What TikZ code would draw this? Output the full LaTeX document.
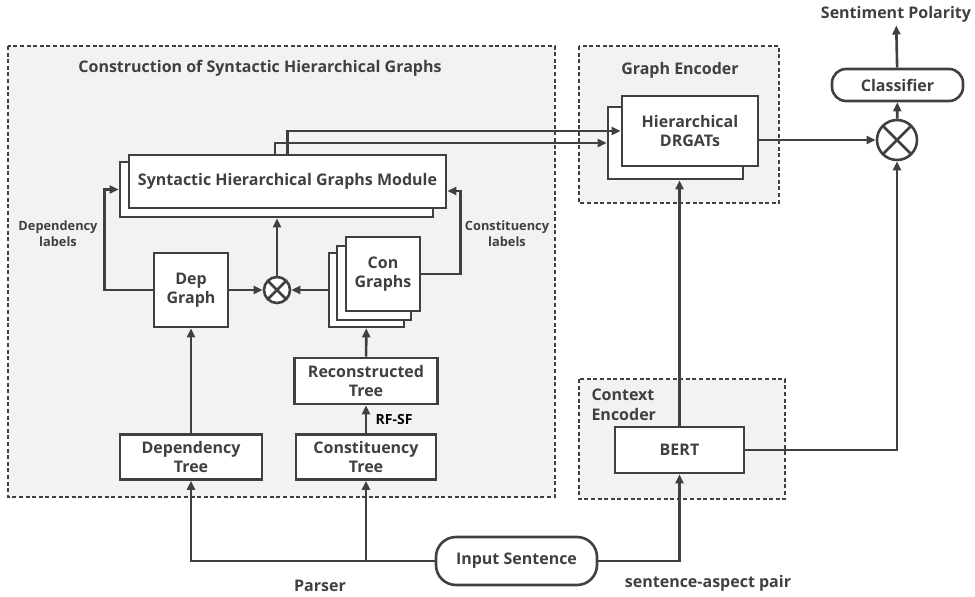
\documentclass[tikz,border=0pt]{standalone}
\usepackage{fontspec}
\setmainfont{Open Sans}
\usetikzlibrary{arrows.meta,%
                shapes,positioning}
\definecolor{ink}{HTML}{404040}
\definecolor{panelfill}{HTML}{F2F2F2}

\tikzset{
  box/.style={draw=ink, line width=2.6pt, fill=white, align=center, text=ink,
    inner sep=0pt, font=\bfseries\fontsize{16}{19.5}\selectfont},
  pill/.style={box, rounded corners=14pt},
  mul/.style={draw=ink, line width=2.6pt, fill=white, circle, inner sep=0pt,
    path picture={\draw[ink, line width=2.6pt]
      (path picture bounding box.north west) -- (path picture bounding box.south east)
      (path picture bounding box.north east) -- (path picture bounding box.south west);}},
  panel/.style={draw=ink, fill=panelfill, line width=2.4pt, dash pattern=on 4pt off 2.6pt},
  title/.style={text=ink, font=\bfseries\fontsize{16}{19.5}\selectfont, align=center},
  note/.style={text=ink, font=\bfseries\fontsize{12.8}{16}\selectfont, align=center},
  arr/.style={draw=ink, line width=2.6pt, -{Triangle[length=9pt,width=8pt]}},
  line/.style={draw=ink, line width=2.6pt}
}

\begin{document}
\begin{tikzpicture}[x=1pt,y=-1pt]
\useasboundingbox (0,0) rectangle (975,597);

% panels
\draw[panel] (8,46) rectangle (555,497);
\draw[panel] (579,46) rectangle (779,203);
\draw[panel] (579,379) rectangle (785,499);
\node[title] (contitle) at (260,68) {Construction of Syntactic Hierarchical Graphs};
\node[title] (enctitle) at (680,70) {Graph Encoder};
\node[title, anchor=west, align=left] (ctxtitle) at (588,405) {Context\\Encoder};

% syntactic part
\node[box, minimum width=313, minimum height=55] (shgback) at (276.5,189.5) {};
\node[box, minimum width=317, minimum height=53] (shg) at (287.5,181.5) {Syntactic Hierarchical Graphs Module};
\node[box, minimum width=74, minimum height=74] (depgraph) at (191,290) {Dep\\Graph};
\node[mul, minimum size=26] (mul) at (277,290) {};
\node[box, minimum width=75, minimum height=74] (conback) at (366.5,290) {};
\node[box, minimum width=74, minimum height=74] (conmid) at (374,283) {};
\node[box, minimum width=74, minimum height=74] (con) at (383,274) {Con\\Graphs};
\node[box, minimum width=143, minimum height=46] (rectree) at (366,381) {Reconstructed\\Tree};
\node[box, minimum width=140, minimum height=45] (contree) at (366,457) {Constituency\\Tree};
\node[box, minimum width=142, minimum height=45] (deptree) at (191,457) {Dependency\\Tree};
\node[note] (deplabel) at (58,234) {Dependency\\labels};
\node[note] (conlabel) at (507,234) {Constituency\\labels};

% encoders
\node[box, minimum width=135, minimum height=72] (drgback) at (675.5,143) {};
\node[box, minimum width=136, minimum height=70] (drg) at (690,131) {Hierarchical\\DRGATs};
\node[box, minimum width=129, minimum height=46] (bert) at (679.5,450) {BERT};
\node[pill, minimum width=161, minimum height=48, rounded corners=20pt] (input) at (516.5,561) {Input Sentence};
\node[pill, minimum width=131, minimum height=32] (classifier) at (897.5,85) {Classifier};
\node[mul, minimum size=40] (mulb) at (897,140) {};
\node[title] (polarity) at (896,14) {Sentiment Polarity};
\node[title] (parser) at (320,586) {Parser};
\node[title] (pair) at (708,583) {sentence-aspect pair};

% connectors
\draw[arr] (input.west) -| (deptree.south);
\draw[arr] (input.west -| contree.south) -- (contree.south);
\draw[arr] (input.east) -| (bert.south);
\draw[arr] (deptree) -- (depgraph);
\draw[arr] (contree) -- node[right=5pt, font=\bfseries\fontsize{14}{16}\selectfont, text=black] {RF-SF} (rectree);
\draw[arr] (rectree) -- (conback);
\draw[arr] (depgraph) -- (mul);
\draw[arr] (conback) -- (mul);
\draw[arr] (mul) -- (mul |- shgback.south);
\draw[arr] (depgraph.west) -- ++(-48,0) |- (shgback.west);
\draw[arr] (con.east) -- ++(39,0) |- ([yshift=-9.5pt]shg.east);
\draw[arr] (shg.north) |- (drg.west);
\draw[arr] ([xshift=-12.5pt]shg.north) |- (drgback.west);
\draw[arr] (bert.north) -- (bert.north |- drgback.south);
\draw[arr] (drg.east |- mulb) -- (mulb);
\draw[arr] (bert.east) -| (mulb.south);
\draw[arr] (mulb) -- (classifier);
\draw[arr] (classifier) -- (polarity);

\end{tikzpicture}
\end{document}
